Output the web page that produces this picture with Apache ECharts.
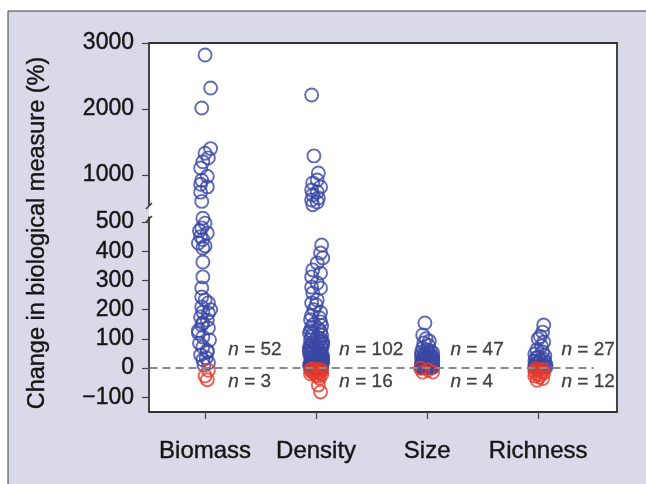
<!DOCTYPE html>
<html><head><meta charset="utf-8">
<script src="https://cdn.jsdelivr.net/npm/echarts@6/dist/echarts.min.js"></script>
<style>html,body{margin:0;padding:0;background:#fff}#c{width:646px;height:484px}</style>
</head><body><div id="c"></div>
<script>
const categories = ['Biomass', 'Density', 'Size', 'Richness'];
const upperTicks = [1000, 2000, 3000];
const lowerTicks = [-100, 0, 100, 200, 300, 400, 500];
const nPositive = [52, 102, 47, 27];
const nNegative = [3, 16, 4, 12];

// [x jitter within category, % change]
const biomassPos = [[0.00,2818],[0.05,2318],[-0.03,2015],[0.05,1400],[0.00,1330],[0.03,1260],[-0.02,1200],[-0.04,1106],[0.02,980],[-0.03,920],[-0.04,860],[0.02,820],[-0.04,740],[-0.03,600],
[-0.02,513],[0.00,496],[-0.03,480],[-0.05,470],[0.02,462],[-0.04,450],[-0.02,440],[-0.06,428],[0.00,418],[-0.02,411],[-0.02,363],[-0.02,312],[-0.03,274],[-0.03,243],[0.00,233],[0.03,223],[-0.03,209],[0.05,200],[-0.02,192],[0.03,188],[-0.04,175],[0.02,164],[-0.02,155],[-0.03,147],[0.03,137],[-0.06,128],[-0.06,120],[-0.02,106],[0.04,96],[-0.05,85],[-0.02,72],[0.02,60],[0.02,55],[-0.04,45],[0.01,35],[-0.02,28],[0.03,18],[-0.01,10]];
const biomassNeg = [[0.03,-8],[0.00,-27],[0.02,-40]];

const densityPos = [[-0.04,2212],[-0.02,1290],[0.02,1030],[0.01,924],[-0.03,879],[0.04,818],[-0.04,773],[0.01,742],[-0.03,697],[0.02,652],[-0.04,621],[0.01,591],[-0.03,550],
[0.05,421],[0.04,394],[0.06,377],[0.01,360],[-0.03,336],[0.04,325],[-0.04,312],[0.01,291],[-0.04,277],[0.04,274],[-0.03,257],[0.01,233],[-0.04,223],[0.00,216],
[-0.02,200],[0.04,190],[-0.04,180],[0.03,172],[-0.05,165],[0.04,158],[-0.02,150],[0.05,145],[-0.04,140],[0.02,135],[-0.05,128],[0.04,124],[-0.03,118],[0.05,112],[-0.04,108],[0.01,104],[0.04,100],
[-0.05,96],[0.03,92],[-0.03,88],[0.05,84],[-0.05,80],[0.00,77],[0.04,74],[-0.04,70],[0.05,67],[-0.02,64],[0.03,61],[-0.05,58],[0.04,55],[-0.03,52],[0.01,50],[0.05,47],[-0.04,45],[0.02,42],[-0.02,40],[0.05,38],[-0.05,36],[0.03,34],[-0.03,32],[0.00,30],[0.05,28],[-0.04,26],[0.04,24],[-0.02,22],[0.05,20],[-0.05,18],[0.02,16],[-0.03,15],[0.04,13],[-0.05,12],[0.02,10],[-0.01,9],[0.05,8],[-0.04,7],[0.03,6],[-0.05,5],[0.01,4],[0.04,3],[-0.02,3],[0.05,2],[-0.05,2],[0.03,1],[-0.03,1],
[0.06,30],[-0.06,60],[0.06,90],[-0.06,120],[0.06,80],[-0.06,50],[0.06,20],[-0.06,10],[0.06,40],[-0.06,70],[0.00,5]];
const densityNeg = [[-0.03,-2],[0.03,-4],[-0.05,-6],[0.05,-8],[0.00,-10],[-0.04,-12],[0.04,-14],[-0.02,-16],[0.02,-18],[-0.05,-20],[0.05,-22],[0.00,-25],[0.02,-28],[0.03,-35],[0.02,-58],[0.04,-82]];

const sizePos = [[-0.02,154],[-0.04,113],[-0.01,100],[0.02,92],[-0.03,86],[0.01,78],[-0.04,68],[0.00,62],[0.03,58],[-0.05,55],[0.05,52],[-0.02,50],[0.02,48],[-0.05,45],[0.04,42],[0.00,40],[-0.03,38],[0.05,36],[-0.05,34],[0.02,32],[-0.01,30],[0.05,28],[-0.04,26],[0.03,25],[-0.02,24],[0.05,22],[-0.05,20],[0.01,18],[0.04,17],[-0.03,15],[0.02,14],[-0.05,12],[0.05,11],[-0.01,10],[0.03,9],[-0.04,8],[0.05,7],[-0.02,6],[0.02,5],[-0.05,4],[0.04,3],[0.00,3],[-0.03,2],[0.05,2],[-0.05,1],[0.02,1],[0.05,35]];
const sizeNeg = [[-0.06,-1],[0.01,-7],[0.05,-14],[-0.04,-14]];

const richnessPos = [[0.05,147],[0.04,123],[0.02,108],[0.00,100],[0.05,89],[0.03,75],[-0.01,62],[0.04,55],[-0.03,48],[0.06,42],[0.00,38],[-0.02,34],[0.05,30],[0.02,27],[-0.03,24],[0.06,21],[0.00,18],[-0.02,15],[0.04,13],[0.07,11],[-0.03,9],[0.02,7],[0.05,5],[-0.02,4],[0.07,3],[0.00,2],[-0.03,1]];
const richnessNeg = [[-0.02,-2],[0.04,-5],[0.00,-8],[-0.03,-10],[0.03,-13],[0.05,-16],[-0.02,-19],[0.02,-23],[-0.03,-27],[0.01,-31],[0.04,-36],[-0.01,-42]];

const positives = [biomassPos, densityPos, sizePos, richnessPos];
const negatives = [biomassNeg, densityNeg, sizeNeg, richnessNeg];

const BREAK_AT = 531;
const BLUE = '#3a47a4', RED = '#e6392b';
const FONT = 'Liberation Sans';
const INK = '#151515';

function pts(groups, upper) {
  const out = [];
  groups.forEach((g, i) => g.forEach(([j, v]) => {
    if ((v >= BREAK_AT) === upper) out.push([i + j, v]);
  }));
  return out;
}

const circle = (color) => ({
  type: 'scatter', symbol: 'circle', symbolSize: 13, clip: false,
  itemStyle: { color: 'rgba(0,0,0,0)', borderColor: color, borderWidth: 1.9 },
  emphasis: { disabled: true }
});

const tickStyle = { color: '#444', width: 1.2 };
const labelStyle = { fontSize: 23, color: INK, fontFamily: FONT, textBorderColor: INK, textBorderWidth: 0.4 };

const chart = echarts.init(document.getElementById('c'));
chart.setOption({
  animation: false,
  backgroundColor: '#ffffff',
  grid: [
    { left: 149, right: 29, top: 43, height: 162 },
    { left: 149, right: 29, top: 217, height: 195 }
  ],
  xAxis: [
    { gridIndex: 0, type: 'value', min: -0.505, max: 3.71, show: false },
    { gridIndex: 1, type: 'value', min: -0.505, max: 3.71, position: 'bottom',
      axisLine: { show: false, onZero: false }, splitLine: { show: false },
      axisTick: { show: true, inside: false, length: 7, customValues: [0, 1, 2, 3], lineStyle: tickStyle },
      axisLabel: { customValues: [0, 1, 2, 3], formatter: v => categories[Math.round(v)], margin: 27,
        fontSize: 24, color: INK, fontFamily: FONT, textBorderColor: INK, textBorderWidth: 0.4 } }
  ],
  yAxis: [
    { gridIndex: 0, type: 'value', min: 545.45, max: 3000, position: 'left',
      axisLine: { show: false, onZero: false }, splitLine: { show: false },
      axisTick: { show: true, inside: false, length: 7, customValues: upperTicks, lineStyle: tickStyle },
      axisLabel: Object.assign({ customValues: upperTicks, margin: 15, formatter: v => String(v) }, labelStyle) },
    { gridIndex: 1, type: 'value', min: -150.7, max: 517.1, position: 'left',
      axisLine: { show: false, onZero: false }, splitLine: { show: false },
      axisTick: { show: true, inside: false, length: 7, customValues: lowerTicks, lineStyle: tickStyle },
      axisLabel: Object.assign({ customValues: lowerTicks, margin: 15,
        formatter: v => v < 0 ? '\u2212' + Math.abs(v) : String(v) }, labelStyle) }
  ],
  graphic: [
    { type: 'rect', z: -3, shape: { x: 8, y: 11, width: 700, height: 500 },
      style: { fill: '#d9d9e8', stroke: '#3a3a3a', lineWidth: 1 } },
    { type: 'rect', z: -2, shape: { x: 149, y: 43, width: 468, height: 369 },
      style: { fill: '#ffffff', stroke: '#333333', lineWidth: 1.8 } },
    { type: 'rect', z: -1, shape: { x: 144, y: 205.5, width: 5, height: 11 },
      style: { fill: '#d9d9e8' } },
    { type: 'rect', z: -1, shape: { x: 149, y: 205.5, width: 3, height: 11 },
      style: { fill: '#ffffff' } },
    { type: 'line', z: -1, shape: { x1: 146, y1: 209, x2: 152, y2: 203 },
      style: { stroke: '#333333', lineWidth: 1.5 } },
    { type: 'line', z: -1, shape: { x1: 146, y1: 222, x2: 152, y2: 216 },
      style: { stroke: '#333333', lineWidth: 1.5 } },
    { type: 'text', x: 38, y: 233, rotation: Math.PI / 2,
      style: { text: 'Change in biological measure (%)', fontSize: 23.5, fontFamily: FONT,
        fill: INK, stroke: INK, lineWidth: 0.4, textAlign: 'center', textVerticalAlign: 'middle' } }
  ],
  series: [
    Object.assign(circle(BLUE), { xAxisIndex: 0, yAxisIndex: 0, data: pts(positives, true) }),
    Object.assign(circle(BLUE), { xAxisIndex: 1, yAxisIndex: 1, data: pts(positives, false) }),
    Object.assign(circle(RED), { xAxisIndex: 1, yAxisIndex: 1, data: pts(negatives, false) }),
    { type: 'line', xAxisIndex: 1, yAxisIndex: 1, symbol: 'none', z: 5,
      data: [[-0.5, 0], [3.5, 0]],
      lineStyle: { color: '#8a8a8a', width: 2, type: [8, 5] } },
    { type: 'scatter', xAxisIndex: 1, yAxisIndex: 1, symbolSize: 1, z: 6,
      itemStyle: { color: 'rgba(0,0,0,0)' },
      data: categories.map((c, i) => [i + 0.205, 62, nPositive[i]])
        .concat(categories.map((c, i) => [i + 0.205, -48, nNegative[i]])),
      label: { show: true, position: 'right', distance: 0,
        formatter: p => '{i|n} = ' + p.value[2],
        fontSize: 19, color: INK, fontFamily: FONT, textBorderColor: INK, textBorderWidth: 0.3,
        rich: { i: { fontStyle: 'italic', fontSize: 19, color: INK, fontFamily: FONT, textBorderColor: INK, textBorderWidth: 0.3 } } } }
  ]
});
</script></body></html>
